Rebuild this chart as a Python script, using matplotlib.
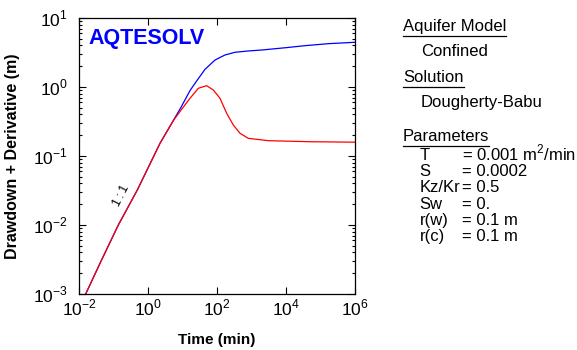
import numpy as np
import matplotlib.pyplot as plt

plt.rcParams["font.family"] = ["Liberation Sans", "DejaVu Sans"]
plt.rcParams["mathtext.fontset"] = "custom"
plt.rcParams["mathtext.rm"] = "Liberation Sans"

# ------------------------------------------------------------
# Datos (log10 del tiempo, log10 del valor)
# ------------------------------------------------------------
# tramo inicial común (pendiente ~1:1)
log_t_inicio = [-1.806, -1.391, -0.86, -0.31, 0.348, 0.73]
log_y_inicio = [-3.0, -2.555, -2.0, -1.493, -0.816, -0.49]

# abatimiento (azul)
log_t_abat = [0.95, 1.22, 1.40, 1.652, 1.942, 2.232, 2.522, 2.90, 3.295,
              4.0, 4.551, 5.226, 6.0]
log_y_abat = [-0.30, -0.05, 0.08, 0.256, 0.391, 0.464, 0.503, 0.522, 0.536,
              0.57, 0.599, 0.628, 0.648]

# derivada (rojo)
log_t_deriv = [0.95, 1.217, 1.458, 1.70, 1.893, 2.087, 2.28, 2.473, 2.667,
               2.907, 3.487, 4.696, 6.0]
log_y_deriv = [-0.34, -0.164, -0.019, 0.019, -0.043, -0.164, -0.381, -0.551,
               -0.671, -0.744, -0.778, -0.793, -0.80]

parametros = [("T", "= 0.001 m$^{2}$/min"),
              ("S", "= 0.0002"),
              ("Kz/Kr", "= 0.5"),
              ("Sw", "= 0."),
              ("r(w)", "= 0.1 m"),
              ("r(c)", "= 0.1 m")]

t_abat = 10 ** np.array(log_t_inicio + log_t_abat)
y_abat = 10 ** np.array(log_y_inicio + log_y_abat)
t_deriv = 10 ** np.array(log_t_inicio + log_t_deriv)
y_deriv = 10 ** np.array(log_y_inicio + log_y_deriv)

# ------------------------------------------------------------
# Figura
# ------------------------------------------------------------
W, H = 577, 350
fig = plt.figure(figsize=(W / 100, H / 100), dpi=100)
ax = fig.add_axes([79 / W, 56 / H, 276 / W, 276 / H])

ax.plot(t_abat, y_abat, color="#0000ff", linewidth=0.9)
ax.plot(t_deriv, y_deriv, color="#ff0000", linewidth=0.9)

ax.set_xscale("log")
ax.set_yscale("log")
ax.set_xlim(1e-2, 1e6)
ax.set_ylim(1e-3, 1e1)

ax.set_xticks([1e-2, 1e0, 1e2, 1e4, 1e6])
ax.set_xticklabels(["10$^{-2}$", "10$^{0}$", "10$^{2}$", "10$^{4}$", "10$^{6}$"])
ax.set_yticks([1e-3, 1e-2, 1e-1, 1e0, 1e1])
ax.set_yticklabels(["10$^{-3}$", "10$^{-2}$", "10$^{-1}$", "10$^{0}$", "10$^{1}$"])

ax.tick_params(which="both", direction="in", top=True, right=True,
               labelsize=12.5, width=0.8, colors="black")
ax.tick_params(which="major", length=5)
ax.tick_params(which="minor", length=2.5)
ax.tick_params(axis="x", pad=3)
ax.tick_params(axis="y", pad=8)
for s in ax.spines.values():
    s.set_linewidth(0.9)

ax.set_xlabel("Time (min)", fontsize=11, fontweight="bold", va="center")
ax.xaxis.set_label_coords(0.5, (294 - 340) / 276)
ax.set_ylabel("Drawdown + Derivative (m)", fontsize=11.5, fontweight="bold", va="center")
ax.yaxis.set_label_coords((13 - 79) / 276, 0.5)

# etiqueta 1:1 y logo
ax.text((121 - 79) / 276, (294 - 196) / 276, "1\u2009:\u20091", transform=ax.transAxes,
        rotation=63, fontsize=9, ha="center", va="center")
ax.text(0.035, 0.925, "AQTESOLV", transform=ax.transAxes, color="#0000ff",
        fontsize=15.5, fontweight="bold", ha="left", va="center")

# ------------------------------------------------------------
# Panel de texto a la derecha
# ------------------------------------------------------------
fs_txt = 12

def texto(x, y, s):
    return fig.text(x / W, 1 - y / H, s, fontsize=fs_txt, ha="left", va="baseline")

def titulo(x, y, s):
    t = texto(x, y, s)
    fig.canvas.draw()
    bb = t.get_window_extent()
    fig.add_artist(plt.Line2D([bb.x0 / W, bb.x1 / W], [1 - (y + 5) / H] * 2,
                              color="black", linewidth=0.9))

titulo(403, 31, "Aquifer Model")
texto(421, 56, "Confined")
titulo(403, 82, "Solution")
texto(421, 107.5, "Dougherty-Babu")
titulo(403, 141, "Parameters")

for i, (nombre, valor) in enumerate(parametros):
    yb = 160 + i * 16.2
    texto(419.5, yb, nombre)
    texto(462, yb, valor)

fig.savefig("out.png", dpi=100)
